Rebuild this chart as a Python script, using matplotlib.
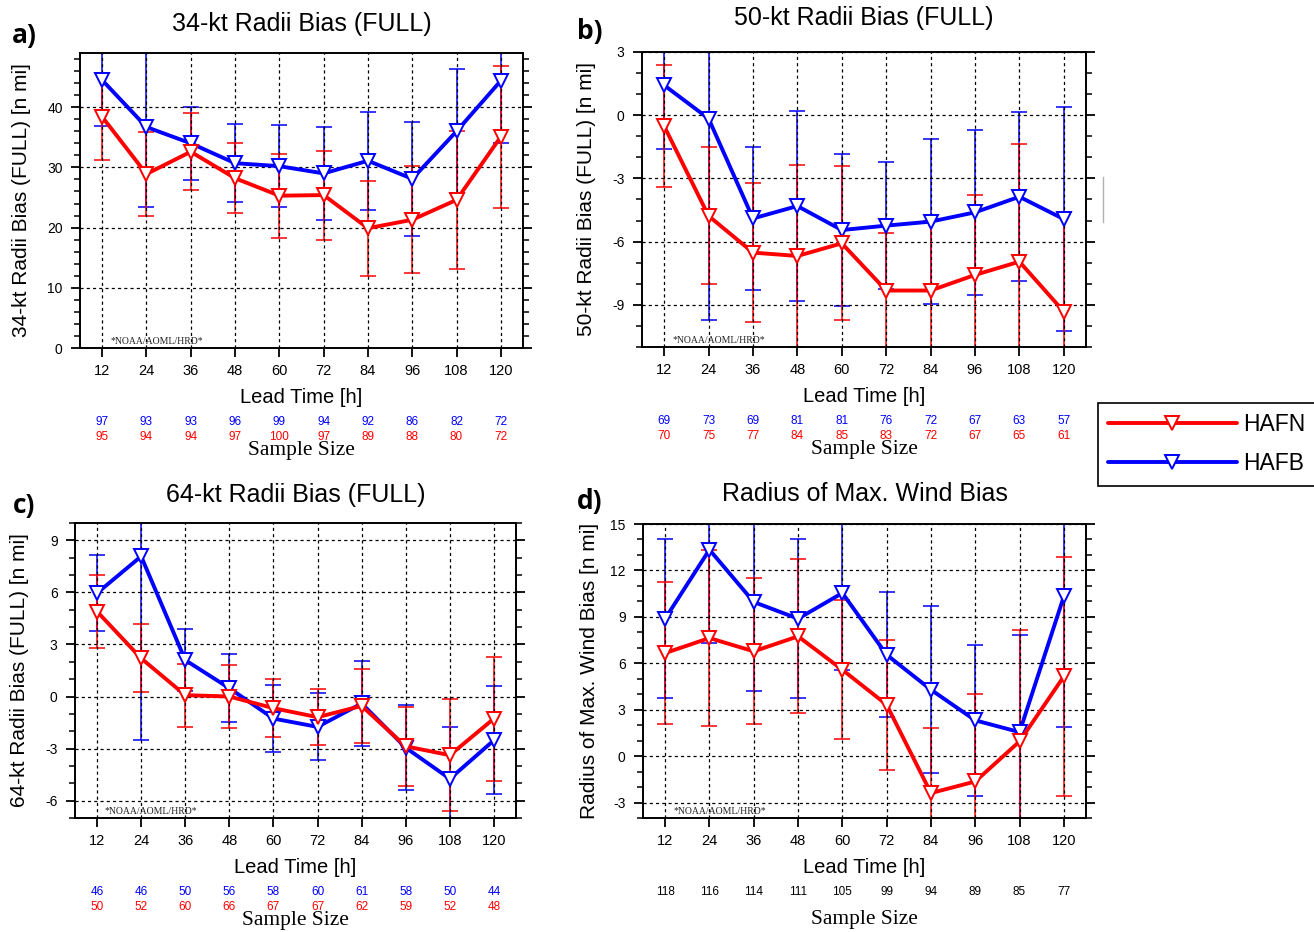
import numpy as np
import matplotlib
matplotlib.use('Agg')
import matplotlib.pyplot as plt
from matplotlib.lines import Line2D
from matplotlib.ticker import MultipleLocator
import matplotlib.transforms as mtransforms

plt.rcParams['font.family'] = ['Liberation Sans', 'DejaVu Sans']
plt.rcParams['axes.unicode_minus'] = False

lead = [12, 24, 36, 48, 60, 72, 84, 96, 108, 120]

# 34-kt radii bias
hafb_34 = [44.5, 36.7, 34.0, 30.7, 30.2, 29.0, 31.1, 28.1, 36.0, 44.4]
hafb_34_err = [7.6, 13.3, 6.1, 6.5, 6.8, 7.7, 8.1, 9.5, 10.3, 10.4]
hafn_34 = [38.4, 28.9, 32.6, 28.2, 25.3, 25.4, 19.9, 21.3, 24.6, 35.1]
hafn_34_err = [7.2, 6.9, 6.4, 5.8, 7.0, 7.4, 7.9, 8.9, 11.4, 11.8]
n_hafb_34 = [97, 93, 93, 96, 99, 94, 92, 86, 82, 72]
n_hafn_34 = [95, 94, 94, 97, 100, 97, 89, 88, 80, 72]

# 50-kt radii bias
hafb_50 = [1.42, -0.16, -4.9, -4.31, -5.45, -5.24, -5.05, -4.61, -3.87, -4.93]
hafb_50_err = [3.03, 9.55, 3.4, 4.5, 3.6, 3.0, 3.9, 3.9, 4.0, 5.3]
hafn_50 = [-0.52, -4.78, -6.52, -6.68, -6.08, -8.32, -8.32, -7.58, -6.95, -9.32]
hafn_50_err = [2.9, 3.25, 3.3, 4.3, 3.65, 2.75, 3.3, 3.8, 5.6, 4.75]
n_hafb_50 = [69, 73, 69, 81, 81, 76, 72, 67, 63, 57]
n_hafn_50 = [70, 75, 77, 84, 85, 83, 72, 67, 65, 61]

# 64-kt radii bias
hafb_64 = [5.96, 8.08, 2.1, 0.48, -1.27, -1.75, -0.40, -2.95, -4.74, -2.52]
hafb_64_err = [2.2, 10.6, 1.8, 1.95, 1.93, 1.93, 2.47, 2.45, 2.97, 3.1]
hafn_64 = [4.9, 2.2, 0.08, 0.0, -0.67, -1.19, -0.54, -2.87, -3.38, -1.27]
hafn_64_err = [2.08, 1.96, 1.82, 1.8, 1.68, 1.63, 2.12, 2.28, 3.24, 3.57]
n_hafb_64 = [46, 46, 50, 56, 58, 60, 61, 58, 50, 44]
n_hafn_64 = [50, 52, 60, 66, 67, 67, 62, 59, 52, 48]

# radius of max wind bias
hafb_rmw = [8.88, 13.34, 9.96, 8.88, 10.54, 6.55, 4.29, 2.31, 1.55, 10.32]
hafb_rmw_err = [5.13, 6.03, 5.78, 5.15, 5.0, 4.04, 5.4, 4.9, 6.25, 8.47]
hafn_rmw = [6.66, 7.63, 6.77, 7.74, 5.58, 3.32, -2.39, -1.64, 0.95, 5.15]
hafn_rmw_err = [4.6, 5.66, 4.71, 4.97, 4.5, 4.2, 4.18, 5.67, 7.2, 7.7]
n_rmw = [118, 116, 114, 111, 105, 99, 94, 89, 85, 77]

W, H = 1314, 932
fig = plt.figure(figsize=(W / 100, H / 100), dpi=100)


def panel(rect, blue, blue_err, red, red_err, ylim, ystep, title, title_y,
          ylabel, ylabel_x, n_top, n_bot, letter, letter_xy):
    ax = fig.add_axes([rect[0] / W, 1 - rect[3] / H, (rect[2] - rect[0]) / W,
                       (rect[3] - rect[1]) / H])
    ax.errorbar(lead, blue, yerr=blue_err, fmt='none', ecolor='blue',
                elinewidth=1.1, capsize=5.5, capthick=1.1, zorder=2)
    ax.errorbar(lead, red, yerr=red_err, fmt='none', ecolor='red',
                elinewidth=1.1, capsize=5.5, capthick=1.1, zorder=2.1)
    lb, = ax.plot(lead, blue, color='blue', lw=2.8, marker='v', ms=10,
                  mfc='white', mec='blue', mew=1.4, zorder=3, label='HAFB',
                  solid_capstyle='round')
    lr, = ax.plot(lead, red, color='red', lw=2.8, marker='v', ms=10,
                  mfc='white', mec='red', mew=1.4, zorder=3.1, label='HAFN',
                  solid_capstyle='round')
    ax.set_xlim(6, 126)
    ax.set_ylim(*ylim)
    ax.set_xticks(lead)
    ax.yaxis.set_major_locator(MultipleLocator(ystep))
    ax.yaxis.set_minor_locator(MultipleLocator(ystep / (5 if ystep == 10 else 3)))
    ax.set_axisbelow(False)
    ax.grid(True, which='major', color='black', linestyle=(0, (2.5, 2.5)),
            linewidth=0.9)
    for s in ax.spines.values():
        s.set_linewidth(1.4)
    ax.tick_params(axis='x', which='major', direction='out', length=6.5,
                   width=1.3, labelsize=10.5, pad=5)
    ax.tick_params(axis='y', which='major', direction='out', length=6.5,
                   width=1.3, labelsize=10, pad=6, right=True)
    ax.tick_params(axis='y', which='minor', direction='out', length=4,
                   width=1.1, right=True)
    ax.text(0.5, title_y, title, transform=ax.transAxes, ha='center',
            va='center', fontsize=18)
    ax.text(ylabel_x, 0.5, ylabel, transform=ax.transAxes, ha='center',
            va='center', rotation=90, fontsize=15)
    ax.text(0.5, -0.169, 'Lead Time [h]', transform=ax.transAxes,
            ha='center', va='center', fontsize=14.5)
    ax.text(0.068, 0.022, '*NOAA/AOML/HRD*', transform=ax.transAxes,
            ha='left', va='center', fontsize=7, family='Liberation Serif',
            color='#222222')
    tr = mtransforms.blended_transform_factory(ax.transData, ax.transAxes)
    top_col = 'blue' if n_bot is not None else 'black'
    for x, n in zip(lead, n_top):
        ax.text(x, -0.251, str(n), transform=tr, ha='center', va='center',
                fontsize=8.5, color=top_col, clip_on=False)
    if n_bot is not None:
        for x, n in zip(lead, n_bot):
            ax.text(x, -0.302, str(n), transform=tr, ha='center',
                    va='center', fontsize=8.5, color='red', clip_on=False)
    ax.text(0.5, -0.346, 'Sample Size', transform=ax.transAxes, ha='center',
            va='center', fontsize=15.5, family='Liberation Serif')
    fig.text(letter_xy[0] / W, 1 - letter_xy[1] / H, letter, ha='center',
             va='center', fontsize=19, fontweight='bold', family='Open Sans')
    return lr, lb


panel((80, 53, 523, 348), hafb_34, hafb_34_err, hafn_34, hafn_34_err,
      (0, 49), 10, '34-kt Radii Bias (FULL)', 1.098,
      '34-kt Radii Bias (FULL) [n mi]', -0.131, n_hafb_34, n_hafn_34,
      'a)', (24, 35))
panel((642, 52, 1086, 347), hafb_50, hafb_50_err, hafn_50, hafn_50_err,
      (-11, 3), 3, '50-kt Radii Bias (FULL)', 1.115,
      '50-kt Radii Bias (FULL) [n mi]', -0.124, n_hafb_50, n_hafn_50,
      'b)', (590, 31))
panel((75, 523, 516, 818), hafb_64, hafb_64_err, hafn_64, hafn_64_err,
      (-7, 10), 3, '64-kt Radii Bias (FULL)', 1.095,
      '64-kt Radii Bias (FULL) [n mi]', -0.125, n_hafb_64, n_hafn_64,
      'c)', (24, 506))
lr, lb = panel((643, 524, 1086, 818), hafb_rmw, hafb_rmw_err, hafn_rmw,
               hafn_rmw_err, (-4, 15), 3, 'Radius of Max. Wind Bias', 1.102,
               'Radius of Max. Wind Bias [n mi]', -0.12, n_rmw, None,
               'd)', (590, 501))

leg = fig.legend(handles=[lr, lb], labels=['HAFN', 'HAFB'], loc='upper left',
                 bbox_to_anchor=(1098 / W, 1 - 403 / H), borderaxespad=0,
                 fontsize=16.5, handlelength=5.6, handletextpad=0.3,
                 borderpad=0.45, labelspacing=0.7, numpoints=1,
                 fancybox=False, edgecolor='black', framealpha=1)
leg.get_frame().set_linewidth(1.2)

fig.add_artist(Line2D([1103 / W, 1103 / W], [1 - 177 / H, 1 - 222 / H],
                      color='#b0b0b0', lw=1))

fig.savefig('out.png', dpi=100)
